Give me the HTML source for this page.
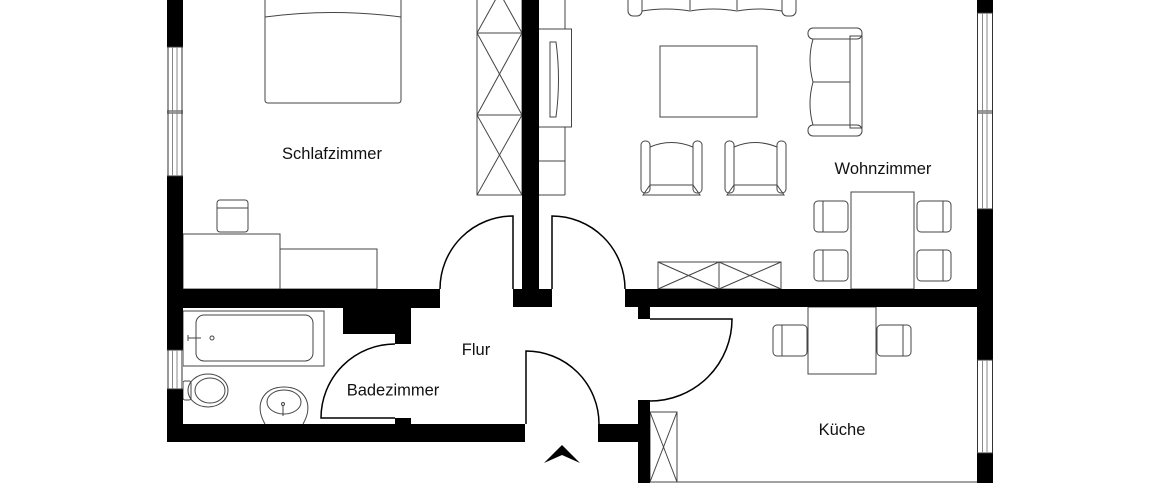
<!DOCTYPE html>
<html><head><meta charset="utf-8"><style>
html,body{margin:0;padding:0;background:#fff;}
svg{display:block;}
text{font-family:"Liberation Sans",Arial,sans-serif;font-size:16.5px;fill:#111;text-anchor:middle;}
</style></head><body>
<svg width="1160" height="483" viewBox="0 0 1160 483" xmlns="http://www.w3.org/2000/svg">
<rect width="1160" height="483" fill="#fff"/>

<!-- Furniture -->
<g fill="none" stroke="#444" stroke-width="1">
  <!-- bed -->
  <path d="M265 0 L265 100 Q265 103 268 103 L398 103 Q401 103 401 100 L401 0"/>
  <path d="M265 17 Q333 8 401 17"/>
  <!-- wardrobe -->
  <rect x="477" y="-48" width="45" height="243"/>
  <line x1="477" y1="33" x2="522" y2="33"/>
  <line x1="477" y1="115" x2="522" y2="115"/>
  <line x1="477" y1="-48" x2="522" y2="33"/>
  <line x1="522" y1="-48" x2="477" y2="33"/>
  <line x1="477" y1="33" x2="522" y2="115"/>
  <line x1="522" y1="33" x2="477" y2="115"/>
  <line x1="477" y1="115" x2="522" y2="195"/>
  <line x1="522" y1="115" x2="477" y2="195"/>
  <!-- desk + chair -->
  <rect x="183" y="234" width="97" height="55"/>
  <rect x="280" y="249" width="97" height="40"/>
  <rect x="217" y="200" width="31" height="32" rx="3"/>
  <line x1="217" y1="208" x2="248" y2="208"/>

  <!-- TV unit -->
  <line x1="565" y1="0" x2="565" y2="29"/>
  <rect x="538" y="29" width="33.5" height="98"/>
  <path d="M550 42 L556 42 Q561 79 556 117 L550 117 Z"/>
  <line x1="565" y1="127" x2="565" y2="195"/>
  <line x1="539" y1="161" x2="565" y2="161"/>
  <line x1="539" y1="195" x2="565" y2="195"/>

  <!-- top sofa -->
  <rect x="628" y="-10" width="14" height="26" rx="5"/>
  <rect x="782" y="-10" width="14" height="26" rx="5"/>
  <path d="M642 11 Q666 7 690 11 Q713 7 737 11 Q760 7 782 11"/>
  <line x1="690" y1="0" x2="690" y2="10"/>
  <line x1="737" y1="0" x2="737" y2="10"/>
  <!-- coffee table -->
  <rect x="660" y="46" width="97" height="71"/>
  <!-- right sofa -->
  <rect x="808" y="28" width="54" height="11" rx="5"/>
  <rect x="808" y="125" width="54" height="11" rx="5"/>
  <rect x="850" y="36" width="12" height="92"/>
  <path d="M813 39 Q807 60 813 82 Q807 104 813 125"/>
  <line x1="813" y1="82" x2="850" y2="82"/>
  <!-- armchairs -->
  <rect x="641" y="141" width="9" height="52" rx="4"/>
  <rect x="693" y="141" width="9" height="52" rx="4"/>
  <path d="M650 147 Q671 138 693 147"/>
  <path d="M643 195 L650 185 L693 185 L700 195 Z"/>
  <rect x="725" y="141" width="9" height="52" rx="4"/>
  <rect x="777" y="141" width="9" height="52" rx="4"/>
  <path d="M734 147 Q755 138 777 147"/>
  <path d="M727 195 L734 185 L777 185 L784 195 Z"/>
  <!-- dining -->
  <rect x="851" y="192" width="63" height="97"/>
  <rect x="814" y="201" width="34" height="31" rx="4"/>
  <line x1="823" y1="201" x2="823" y2="232"/>
  <rect x="814" y="250" width="34" height="31" rx="4"/>
  <line x1="823" y1="250" x2="823" y2="281"/>
  <rect x="917" y="201" width="34" height="31" rx="4"/>
  <line x1="943" y1="201" x2="943" y2="232"/>
  <rect x="917" y="250" width="34" height="31" rx="4"/>
  <line x1="943" y1="250" x2="943" y2="281"/>
  <!-- low cabinet -->
  <rect x="658" y="262" width="61" height="27"/>
  <rect x="719" y="262" width="62" height="27"/>
  <line x1="658" y1="262" x2="719" y2="289"/>
  <line x1="719" y1="262" x2="658" y2="289"/>
  <line x1="719" y1="262" x2="781" y2="289"/>
  <line x1="781" y1="262" x2="719" y2="289"/>

  <!-- bathroom -->
  <rect x="183" y="311" width="141" height="55"/>
  <rect x="196" y="315" width="117" height="46" rx="8"/>
  <path d="M188 335 L188 341 M188 338 L201 338"/>
  <circle cx="212" cy="338" r="2"/>
  <rect x="183" y="381" width="8" height="19" rx="2"/>
  <ellipse cx="208" cy="390.5" rx="20" ry="16.5"/>
  <ellipse cx="210" cy="390.5" rx="15" ry="12.5"/>
  <path d="M265 424 Q257 410 262 399 Q268 387 284 387 Q300 387 306 399 Q311 410 303 424"/>
  <ellipse cx="284" cy="402" rx="17" ry="12"/>
  <line x1="283" y1="405" x2="283" y2="416"/>
  <circle cx="283" cy="404" r="1.5"/>

  <!-- kitchen -->
  <rect x="808" y="307" width="68" height="67"/>
  <rect x="773" y="325" width="34" height="31" rx="4"/>
  <line x1="782" y1="325" x2="782" y2="356"/>
  <rect x="877" y="325" width="34" height="31" rx="4"/>
  <line x1="903" y1="325" x2="903" y2="356"/>
  <rect x="650" y="412" width="27" height="70"/>
  <line x1="650" y1="412" x2="677" y2="482"/>
  <line x1="677" y1="412" x2="650" y2="482"/>
  <line x1="677" y1="482" x2="977" y2="482"/>
</g>

<!-- Walls -->
<g fill="#000">
  <rect x="167" y="0" width="16" height="442"/>
  <rect x="167" y="289" width="273" height="19"/>
  <rect x="343" y="307" width="68" height="27"/>
  <rect x="395" y="333" width="16" height="11"/>
  <rect x="167" y="424" width="358" height="18"/>
  <rect x="395" y="418" width="16" height="7"/>
  <rect x="522" y="0" width="17" height="307"/>
  <rect x="513" y="289" width="39" height="18"/>
  <rect x="625" y="289" width="368" height="18"/>
  <rect x="638" y="306" width="12" height="13"/>
  <rect x="977" y="0" width="16" height="483"/>
  <rect x="598" y="424" width="52" height="18"/>
  <rect x="638" y="400" width="12" height="83"/>
</g>

<!-- Windows -->
<g stroke-width="1">
  <rect x="167" y="47" width="16" height="129" fill="#fff"/>
  <rect x="167" y="350" width="16" height="39" fill="#fff"/>
  <rect x="977" y="13" width="16" height="196" fill="#fff"/>
  <rect x="977" y="360" width="16" height="93" fill="#fff"/>
</g>
<g fill="none" stroke="#333" stroke-width="1">
  <path d="M168 47 V176 M182 47 V176 M167 47 H183 M167 176 H183 M167 111 H183 M167 113 H183"/>
  <path d="M168 350 V389 M182 350 V389 M167 350 H183 M167 389 H183"/>
  <path d="M977.5 13 V209 M992.5 13 V209 M977 13 H993 M977 209 H993 M977 111 H993 M977 113 H993"/>
  <path d="M977.5 360 V453 M992.5 360 V453 M977 360 H993 M977 453 H993"/>
</g>
<g fill="none" stroke="#888" stroke-width="1">
  <path d="M172.5 47 V176 M177 47 V176"/>
  <path d="M172.5 350 V389 M177 350 V389"/>
  <path d="M982.5 13 V209 M987 13 V209"/>
  <path d="M982.5 360 V453 M987 360 V453"/>
</g>

<!-- Doors -->
<g fill="none" stroke="#000" stroke-width="1.5">
  <path d="M440 289 A73 73 0 0 1 513 216 L513 289"/>
  <path d="M625 289 A73 73 0 0 0 552 216 L552 289"/>
  <path d="M395 344 A74 74 0 0 0 321 418 L395 418"/>
  <path d="M526 424 L526 351 A73 73 0 0 1 599 424"/>
  <path d="M650 319 L732 319 A82 82 0 0 1 650 401"/>
</g>

<!-- Entry arrow -->
<polygon points="544,463 562,445 580,463 562,455" fill="#000"/>

<!-- Labels -->
<text x="332" y="159">Schlafzimmer</text>
<text x="883" y="174">Wohnzimmer</text>
<text x="476" y="355">Flur</text>
<text x="393" y="395.5">Badezimmer</text>
<text x="842" y="435">Küche</text>
</svg>
</body></html>
